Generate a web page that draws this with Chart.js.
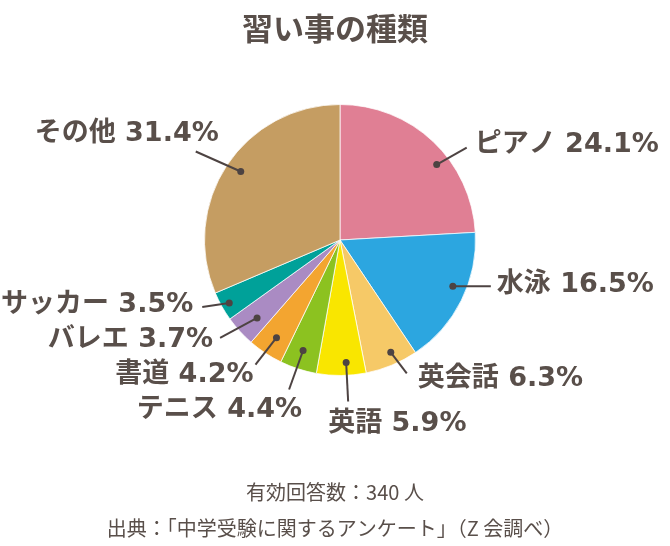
<!DOCTYPE html>
<html>
<head>
<meta charset="utf-8">
<script src="https://cdn.jsdelivr.net/npm/chart.js@4"></script>
<style>
html,body{margin:0;padding:0;background:#fff;}
#wrap{width:670px;height:546px;}
</style>
</head>
<body>
<div id="wrap"><canvas id="c" width="670" height="546"></canvas></div>
<script>
// ---- data ----
const categories = ['ピアノ', '水泳', '英会話', '英語', 'テニス', '書道', 'バレエ', 'サッカー', 'その他'];
const percentages = [24.1, 16.5, 6.3, 5.9, 4.4, 4.2, 3.7, 3.5, 31.4];
const sliceColors = ['#E07F94', '#2CA6E0', '#F6C967', '#F9E600', '#8CC220', '#F3A530', '#AA8BC3', '#00A199', '#C59D62'];
const titleText = '習い事の種類';
const footerLines = ['有効回答数：340 人', '出典：「中学受験に関するアンケート」（Z 会調べ）'];

// ---- label layout (relative to each slice) ----
// t: position along slice angle (0..1), rf: radius fraction for dot,
// lx,ly: leader line vector from dot, align: text alignment, tx,ty: text offset from line end
const labelLayout = [
  {t:0.60, rf:0.905, lx:30,  ly:-17, align:'left',  tx:8,   ty:-3},
  {t:0.43, rf:0.90,  lx:38,  ly:0,   align:'left',  tx:6,   ty:-1},
  {t:0.42, rf:0.91,  lx:16,  ly:21,  align:'left',  tx:11,  ty:6},
  {t:0.39, rf:0.905, lx:2,   ly:39,  align:'left',  tx:-20, ty:23},
  {t:0.53, rf:0.86,  lx:-14, ly:39,  align:'right', tx:13,  ty:20},
  {t:0.47, rf:0.86,  lx:-21, ly:27,  align:'right', tx:-2,  ty:10},
  {t:0.43, rf:0.84,  lx:-37, ly:20,  align:'right', tx:-7,  ty:2},
  {t:0.48, rf:0.94,  lx:-27, ly:4,   align:'right', tx:-9,  ty:-2},
  {t:0.51, rf:0.89,  lx:-45, ly:-20, align:'right', tx:23,  ty:-18}
];

const textColor = '#594f4a';
const lineColor = '#4d4342';
const labelFont = 'bold 27px "DejaVu Sans", "Noto Sans CJK JP", sans-serif';

const leaderLabels = {
  id: 'leaderLabels',
  afterDatasetsDraw(chart) {
    const ctx = chart.ctx;
    const meta = chart.getDatasetMeta(0);
    meta.data.forEach((arc, i) => {
      const p = arc.getProps(['x','y','startAngle','endAngle','outerRadius'], true);
      const L = labelLayout[i];
      const a = p.startAngle + (p.endAngle - p.startAngle) * L.t;
      const r = p.outerRadius * L.rf;
      const dx = p.x + Math.cos(a) * r;
      const dy = p.y + Math.sin(a) * r;
      const ex = dx + L.lx, ey = dy + L.ly;
      ctx.save();
      ctx.strokeStyle = lineColor;
      ctx.lineWidth = 2;
      ctx.beginPath();
      ctx.moveTo(dx, dy);
      ctx.lineTo(ex, ey);
      ctx.stroke();
      ctx.fillStyle = lineColor;
      ctx.beginPath();
      ctx.arc(dx, dy, 3.5, 0, Math.PI * 2);
      ctx.fill();
      ctx.font = labelFont;
      ctx.fillStyle = textColor;
      ctx.textAlign = L.align;
      ctx.textBaseline = 'middle';
      ctx.fillText(categories[i] + ' ' + percentages[i].toFixed(1) + '%', ex + L.tx, ey + L.ty);
      ctx.restore();
    });
  },
  afterDraw(chart) {
    const ctx = chart.ctx;
    const cx = chart.width / 2;
    ctx.save();
    ctx.fillStyle = textColor;
    ctx.textAlign = 'center';
    ctx.textBaseline = 'middle';
    ctx.font = 'bold 31px "Noto Sans CJK JP", sans-serif';
    ctx.fillText(titleText, cx, 28);
    ctx.font = '20px "Noto Sans CJK JP", sans-serif';
    footerLines.forEach((s, k) => ctx.fillText(s, cx, 492 + k * 36));
    ctx.restore();
  }
};

new Chart(document.getElementById('c'), {
  type: 'pie',
  data: {
    labels: categories,
    datasets: [{
      data: percentages,
      backgroundColor: sliceColors,
      borderColor: 'rgba(255,255,255,0.75)',
      borderWidth: 1
    }]
  },
  options: {
    responsive: false,
    animation: false,
    devicePixelRatio: 1,
    layout: { padding: { left: 204, right: 194, top: 104, bottom: 170 } },
    plugins: {
      legend: { display: false },
      tooltip: { enabled: false },
      title: { display: false }
    }
  },
  plugins: [leaderLabels]
});
</script>
</body>
</html>
